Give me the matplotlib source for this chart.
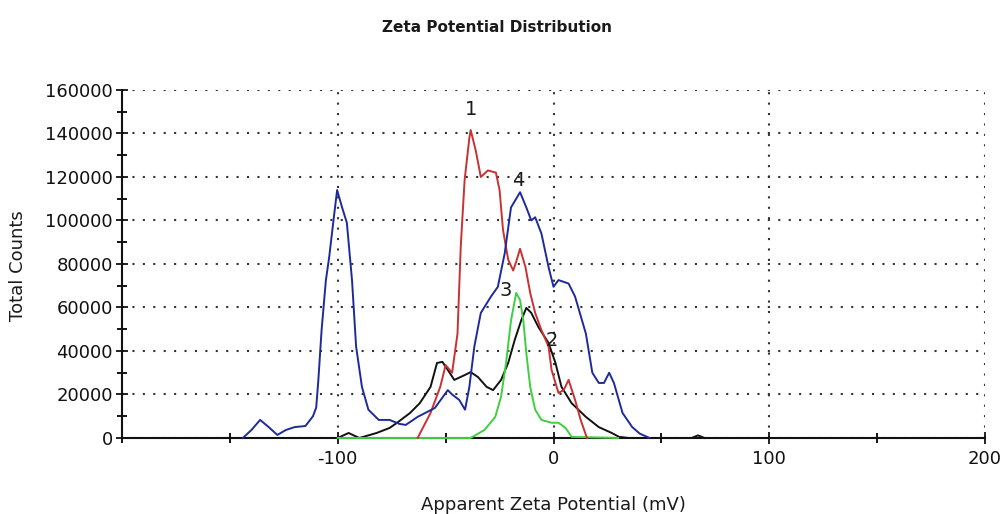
import matplotlib
matplotlib.use("Agg")
import matplotlib.pyplot as plt
from matplotlib.ticker import MultipleLocator

plt.rcParams['font.family'] = 'DejaVu Sans'
plt.rcParams['axes.unicode_minus'] = False

# curve 4 (blue)
blue_x = [-144, -140, -136, -132, -128, -124, -120, -115, -111.5, -110, -109, -107.5, -105.5,
          -104, -102, -100.3, -98, -95.8, -93.4, -91.5, -88.8, -85.8, -81, -76, -71.5, -68.5,
          -63, -55, -49, -47, -43.7, -41, -39, -36.7, -33.7, -29, -25.8, -22.6, -19.7, -15.5,
          -12.6, -10.3, -8.5, -5.6, -2.3, 0, 2.3, 7, 10, 15, 18, 21, 23.4, 25.8, 28, 32,
          36.5, 40, 44.5]
blue_y = [0, 3700, 8300, 5000, 1400, 3700, 5000, 5500, 10000, 14000, 26700, 49600, 72600,
          83000, 100000, 114000, 106000, 99000, 72600, 42000, 23500, 13000, 8300, 8300, 6500, 6000,
          9700, 13800, 22000, 20000, 17500, 13000, 23500, 42000, 57500, 65000, 69500, 85000, 106000, 113000,
          106000, 100000, 101500, 94000, 78600, 69500, 72600, 71000, 65000, 48000, 30000, 25300, 25300, 30000, 25300, 11500,
          5000, 2000, 0]

# curve 1 (red)
red_x = [-63, -57, -52.5, -50, -47, -44.5, -43, -41.2, -39, -38.4, -36, -33.7, -30.4, -26.7,
         -25, -23.4, -21, -18.7, -17.3, -15.5, -13, -10.8, -8.5, -5.6, -2.3, -0.9, 2.3, 4.7,
         7, 10, 12.6, 15.5]
red_y = [0, 11500, 23500, 33500, 30000, 48000, 88000, 118600, 138000, 141600, 132000, 120000, 123000, 122000,
         114000, 95600, 82000, 77000, 81000, 87000, 78600, 66700, 57500, 49600, 42000, 31300, 20700, 22000,
         26700, 17500, 8300, 0]

# curve 2 (black)
black_x = [-100, -95, -90, -82, -76, -72.5, -66.5, -62, -57, -54, -51.5, -49, -46, -41, -38.4,
           -35, -31, -28, -24.3, -21, -18, -15, -12.6, -10.3, -7, -2.3, 0.9, 3.7, 8.4, 15, 21,
           27, 30.4, 35, 64, 67, 70]
black_y = [0, 2300, 0, 2300, 4600, 7000, 11500, 16000, 23500, 34500, 35000, 31300, 26700, 29000, 30300,
           28000, 23500, 22000, 26700, 34500, 45000, 54000, 59800, 57500, 51000, 43700, 34500, 23500, 16000, 9700, 5000,
           2300, 500, 0, 0, 1200, 0]

# curve 3 (green)
green_x = [-100, -38.4, -32, -27, -24.3, -22, -19.7, -17.3, -15.5, -14, -12.6, -10.8, -8.5, -5.6,
           -0.9, 2.3, 5.6, 8.4, 30]
green_y = [0, 0, 3700, 9700, 19000, 34500, 54000, 66700, 63400, 54000, 39000, 23500, 13000, 8300,
           7000, 7000, 4600, 500, 0]

labels = ["1", "2", "3", "4"]
label_x = [-38.4, -1, -22, -16.4]
label_y = [151000, 45000, 68000, 118600]

fig = plt.figure(figsize=(10.02, 5.14), dpi=100)
ax = fig.add_axes([0.1218, 0.1479, 0.8612, 0.677])

lw = 1.4
ax.plot(black_x, black_y, color='#111111', lw=lw, clip_on=False, zorder=3)
ax.plot(green_x, green_y, color='#3fcf3f', lw=lw, clip_on=False, zorder=3)
ax.plot(red_x, red_y, color='#c83232', lw=lw, clip_on=False, zorder=3)
ax.plot(blue_x, blue_y, color='#1f2a9a', lw=lw, clip_on=False, zorder=3)

for t, x, y in zip(labels, label_x, label_y):
    ax.text(x, y, t, fontsize=14, ha='center', va='center', color='#1a1a1a', zorder=4)

ax.set_xlim(-200, 200)
ax.set_ylim(0, 160000)
ax.xaxis.set_major_locator(MultipleLocator(100))
ax.xaxis.set_minor_locator(MultipleLocator(50))
ax.yaxis.set_major_locator(MultipleLocator(20000))
ax.yaxis.set_minor_locator(MultipleLocator(10000))
ax.set_xticks([-100, 0, 100, 200])
ax.set_xticklabels(['-100', '0', '100', '200'])

ax.grid(True, which='major', color='#333333', linestyle=(0, (1, 4)), linewidth=1.5)
ax.tick_params(which='major', direction='inout', length=9, width=1.3, labelsize=13, colors='#111111')
ax.tick_params(which='minor', direction='inout', length=7, width=1.3)
ax.tick_params(axis='y', pad=2)
ax.tick_params(axis='x', pad=4)

for s in ['top', 'right']:
    ax.spines[s].set_visible(False)
for s in ['left', 'bottom']:
    ax.spines[s].set_linewidth(1.5)
    ax.spines[s].set_color('#111111')

fig.text(0.496, 0.947, 'Zeta Potential Distribution', fontsize=11, fontweight='bold',
         ha='center', va='center', color='#1a1a1a')
fig.text(0.552, 0.018, 'Apparent Zeta Potential (mV)', fontsize=13, ha='center', va='center', color='#1a1a1a')
fig.text(0.018, 0.484, 'Total Counts', fontsize=13, rotation=90, ha='center', va='center', color='#1a1a1a')

fig.savefig('out.png', dpi=100)
